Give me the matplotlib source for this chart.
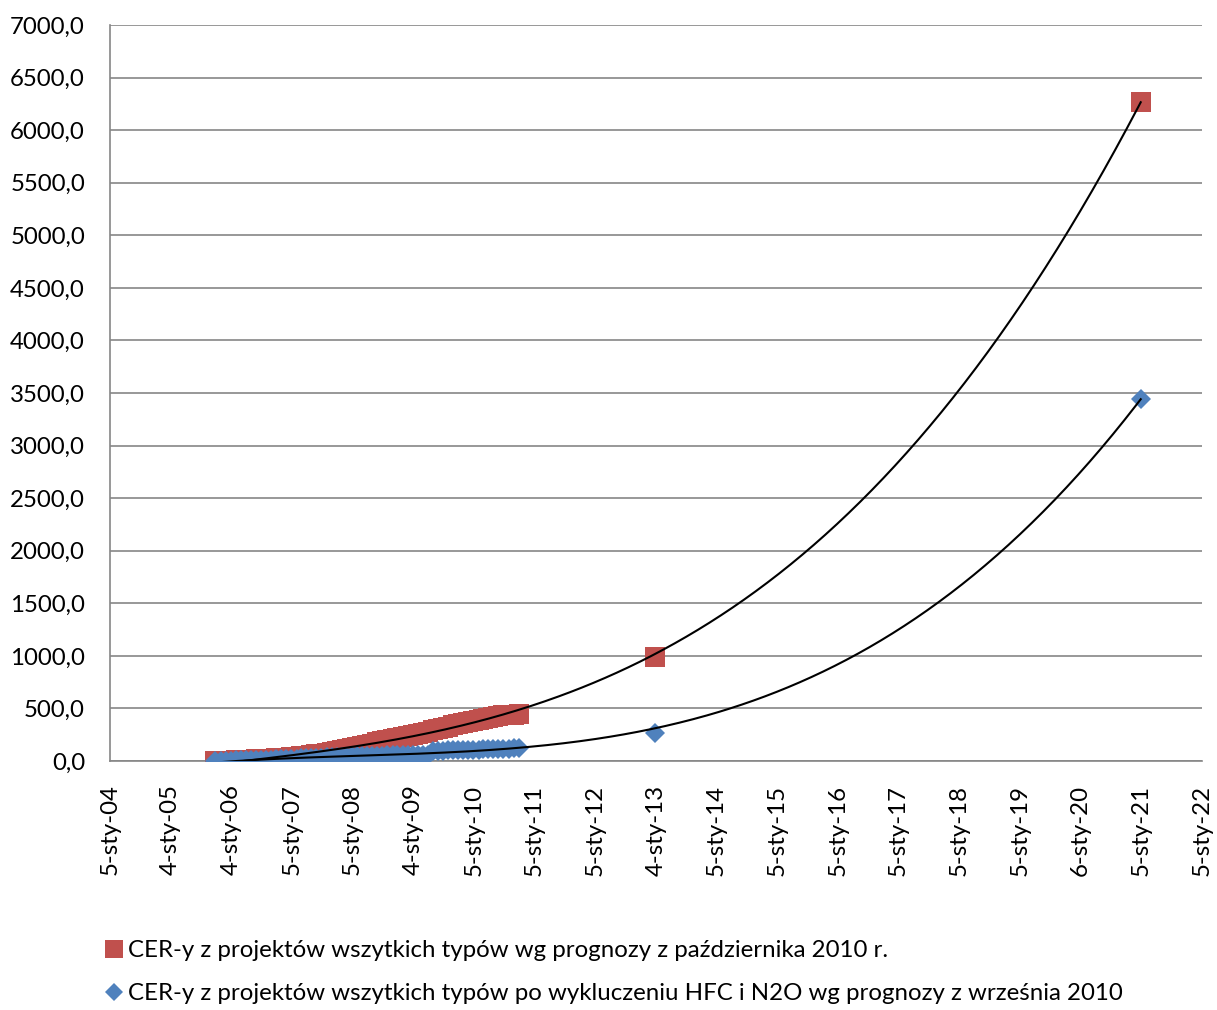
import numpy as np
import pandas as pd
import matplotlib
matplotlib.use("Agg")
import matplotlib.pyplot as plt
import matplotlib.dates as mdates
from matplotlib.lines import Line2D
from matplotlib.ticker import FuncFormatter

plt.rcParams['font.family'] = ['Lato', 'DejaVu Sans']

# monthly pipeline readings, Oct 2005 - Oct 2010
months = pd.date_range("2005-10-01", "2010-10-01", freq="MS")
all_types = [0, 1, 2, 4, 5, 7, 9, 12, 15, 19, 21, 23,
             26, 28, 31, 34, 38, 43, 49, 55, 62, 69, 76, 85,
             94, 103, 113, 123, 133, 144, 155, 166, 177, 188, 199, 210,
             220, 230, 240, 250, 260, 270, 280, 292, 304, 316, 327, 338,
             350, 360, 370, 380, 390, 400, 410, 420, 427, 433, 438, 442, 445]
no_hfc_n2o = [0, 2, 3, 4, 5, 7, 8, 9, 10, 12, 13, 14,
              16, 17, 19, 21, 23, 25, 27, 29, 31, 33, 35, 37,
              38, 40, 41, 43, 44, 46, 47, 49, 50, 52, 53, 54,
              55, 55, 56, 57, 57, 58, 58, 95, 97, 99, 100, 102,
              103, 105, 106, 108, 109, 111, 112, 114, 115, 117, 118, 120, 122]

# forecast points
forecast_dates = pd.to_datetime(["2013-01-01", "2021-01-01"])
all_types_fc = [985, 6268]
no_hfc_n2o_fc = [269, 3443]

labels = ["CER-y z projektów wszytkich typów wg prognozy z października 2010 r.",
          "CER-y z projektów wszytkich typów po wykluczeniu HFC i N2O wg prognozy z września 2010"]

tick_labels = ["5-sty-04", "4-sty-05", "4-sty-06", "5-sty-07", "5-sty-08", "4-sty-09",
               "5-sty-10", "5-sty-11", "5-sty-12", "4-sty-13", "5-sty-14", "5-sty-15",
               "5-sty-16", "5-sty-17", "5-sty-18", "5-sty-19", "6-sty-20", "5-sty-21",
               "5-sty-22"]

red = "#C0504D"
blue = "#4F81BD"
grid_col = "#868686"
fs = 17.3

W, H = 1217, 1010
fig = plt.figure(figsize=(W / 100, H / 100), dpi=100)
ax = fig.add_axes([110 / W, 1 - 761 / H, (1202 - 110) / W, (761 - 25) / H])

x_all = mdates.date2num(list(months) + list(forecast_dates))
y_red = np.array(all_types + all_types_fc, dtype=float)
y_blue = np.array(no_hfc_n2o + no_hfc_n2o_fc, dtype=float)

ax.plot(x_all, y_red, linestyle="none", marker="s", markersize=14.4,
        color=red, markeredgewidth=0, zorder=3)
ax.plot(x_all, y_blue, linestyle="none", marker="D", markersize=10.2,
        color=blue, markeredgewidth=0, zorder=4)

# third order polynomial trendlines
x0 = x_all.min()
xs = np.linspace(x_all.min(), x_all.max(), 400)
for ys in (y_red, y_blue):
    coef = np.polyfit((x_all - x0) / 365.0, ys, 3)
    ax.plot(xs, np.polyval(coef, (xs - x0) / 365.0), color="black", lw=1.5, zorder=5)

xmin = mdates.date2num(pd.Timestamp("2004-01-05"))
xmax = mdates.date2num(pd.Timestamp("2022-01-05"))
ax.set_xlim(xmin, xmax)
ax.set_ylim(0, 7000)
ax.set_xticks(np.linspace(xmin, xmax, len(tick_labels)))
ax.set_xticklabels(tick_labels, rotation=90, fontsize=fs)
ax.set_yticks(np.arange(0, 7001, 500))
ax.yaxis.set_major_formatter(FuncFormatter(lambda v, p: f"{v:.1f}".replace(".", ",")))
ax.tick_params(axis="y", labelsize=fs, length=0, pad=18)
ax.tick_params(axis="x", length=0, pad=17)

ax.grid(axis="y", color=grid_col, lw=1.2)
ax.set_axisbelow(True)
for s in ("top", "right"):
    ax.spines[s].set_visible(False)
for s in ("left", "bottom"):
    ax.spines[s].set_color(grid_col)
    ax.spines[s].set_linewidth(1.2)

handles = [Line2D([], [], linestyle="none", marker="s", markersize=12.7,
                  color=red, markeredgewidth=0),
           Line2D([], [], linestyle="none", marker="D", markersize=9,
                  color=blue, markeredgewidth=0)]
fig.legend(handles, labels, loc="upper left", bbox_to_anchor=(105.6 / W, 1 - 940 / H),
           frameon=False, fontsize=fs, handlelength=0.74, handletextpad=0.2,
           labelspacing=0.93, borderpad=0, borderaxespad=0)

fig.savefig("out.png", dpi=100)
